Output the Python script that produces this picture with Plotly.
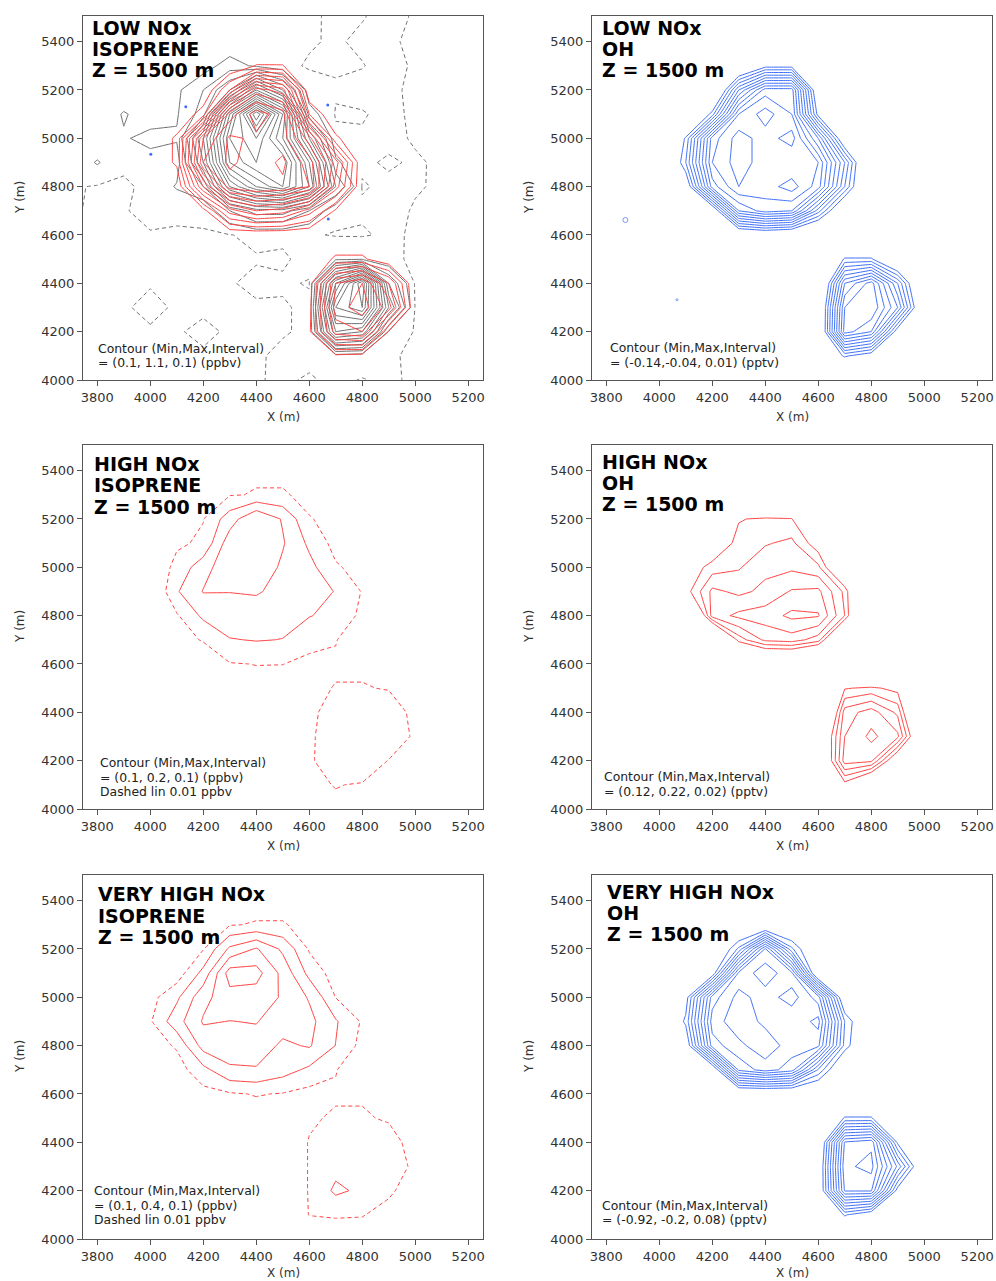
import plotly.graph_objects as go

W, H = 996, 1281

# ---------------- grids (metres) ----------------
XG = [3900, 4000, 4100, 4200, 4300, 4400, 4500, 4600, 4700, 4800, 4900, 5000, 5100]
YG = [5400, 5300, 5200, 5100, 5000, 4900, 4800, 4700, 4600, 4500, 4400, 4300, 4200, 4100, 4000]
XW = [3700, 3800, 3900, 4000, 4100, 4200, 4300, 4400, 4500, 4600, 4700, 4800, 4900, 5000, 5100, 5200, 5300]
YW = [5600, 5500, 5400, 5300, 5200, 5100, 5000, 4900, 4800, 4700, 4600, 4500, 4400, 4300, 4200, 4100, 4000, 3900]

# LOW NOx isoprene (red field), ppbv, rows top -> bottom
P1_RED = [
    [0, 0, 0, 0, 0, 0, 0, 0, 0, 0, 0, 0, 0],
    [0, 0, 0, 0, 0, .105, .104, 0, 0, 0, 0, 0, 0],
    [0, 0, 0, 0, .3, .85, .75, 0, 0, 0, 0, 0, 0],
    [0, 0, 0, .15, .95, 1.15, 1.05, .2, 0, 0, 0, 0, 0],
    [0, 0, .12, .9, 1.12, 1.08, 1.05, .75, .12, 0, 0, 0, 0],
    [0, 0, .12, 1.0, 1.12, 1.05, 1.12, .95, .55, 0, 0, 0, 0],
    [0, 0, 0, .6, 1.05, 1.1, 1.08, 1.0, .45, 0, 0, 0, 0],
    [0, 0, 0, .05, .45, .6, .55, .35, .08, 0, 0, 0, 0],
    [0, 0, 0, 0, 0, 0, 0, 0, 0, 0, 0, 0, 0],
    [0, 0, 0, 0, 0, 0, 0, 0, .12, .12, .02, 0, 0],
    [0, 0, 0, 0, 0, 0, 0, .05, .6, .7, .4, 0, 0],
    [0, 0, 0, 0, 0, 0, 0, .06, .65, .75, .55, 0, 0],
    [0, 0, 0, 0, 0, 0, 0, .08, .55, .6, .09, 0, 0],
    [0, 0, 0, 0, 0, 0, 0, 0, .08, .06, 0, 0, 0],
    [0, 0, 0, 0, 0, 0, 0, 0, 0, 0, 0, 0, 0],
]

# LOW NOx second (gray) field on the wide grid
P1_GRAY = [
    [.02, .025, .02, .018, .022, .02, .025, .02, .018, .015, .004, .006, .03, .004, 0, 0, 0],
    [.022, .02, .018, .025, .02, .022, .02, .024, .02, .016, .003, .008, .022, .006, 0, 0, 0],
    [.02, .024, .02, .02, .018, .022, .02, .02, .02, .014, .005, .018, .016, .002, 0, 0, 0],
    [.02, .02, .022, .02, .02, .05, .15, .08, .02, .006, .002, .008, .025, .004, 0, 0, 0],
    [.025, .02, .02, .022, .08, .2, .4, .9, .5, .03, .018, .024, .014, .006, 0, 0, 0],
    [.02, .022, .11, .05, .09, .25, 1.2, 2.0, 1.3, .15, .004, .007, .02, .003, 0, 0, 0],
    [.02, .018, .09, .13, .11, .6, 1.4, 1.6, 1.2, .5, .024, .014, .022, .005, 0, 0, 0],
    [.024, .11, .02, .06, .05, .5, 1.3, 1.5, 1.5, .9, .12, .018, .004, .016, .002, 0, 0],
    [.018, .004, .002, .022, .11, .2, .9, 1.2, 1.4, 1.0, .3, .006, .02, .014, .004, 0, 0],
    [.016, .002, .006, .026, .02, .018, .2, .35, .35, .2, .03, .018, .024, .006, 0, 0, 0],
    [.004, 0, .002, .006, .004, .007, .008, .022, .018, .016, .006, .004, .02, .003, 0, 0, 0],
    [0, .002, 0, .004, .002, 0, .004, .006, .004, .024, .08, .09, .018, .004, 0, 0, 0],
    [0, 0, .003, .006, 0, .004, .006, .022, .016, .007, .9, 1.5, .3, .002, 0, 0, 0],
    [0, 0, .004, .024, .003, .002, .006, .003, .005, .02, 1.2, 1.4, .5, .006, 0, 0, 0],
    [0, 0, 0, .004, .006, .02, .004, 0, .006, .018, .9, .8, .09, .003, 0, 0, 0],
    [0, 0, 0, 0, .002, .004, 0, .004, .02, .024, .05, .04, .016, .002, 0, 0, 0],
    [0, 0, 0, 0, 0, 0, 0, .006, .018, .004, .022, .007, .02, 0, 0, 0, 0],
    [0, 0, 0, 0, 0, 0, 0, 0, .004, 0, .004, 0, .02, 0, 0, 0, 0],
]
P1_BLUE_X = [4134, 4002, 4670, 4672]
P1_BLUE_Y = [5131, 4934, 5138, 4666]

# LOW NOx OH, pptv
P2_OH = [
    [0, 0, 0, 0, 0, 0, 0, 0, 0, 0, 0, 0, 0],
    [0, 0, 0, 0, -.01, -.035, -.035, 0, 0, 0, 0, 0, 0],
    [0, 0, 0, 0, -.08, -.125, -.125, -.02, 0, 0, 0, 0, 0],
    [0, 0, 0, -.045, -.13, -.145, -.13, -.035, 0, 0, 0, 0, 0],
    [0, 0, -.042, -.125, -.145, -.135, -.145, -.1, -.02, 0, 0, 0, 0],
    [0, 0, -.05, -.13, -.145, -.135, -.13, -.13, -.07, 0, 0, 0, 0],
    [0, 0, -.025, -.115, -.14, -.135, -.145, -.125, -.06, 0, 0, 0, 0],
    [0, 0, 0, -.02, -.11, -.125, -.12, -.065, -.01, 0, 0, 0, 0],
    [0, 0, 0, 0, -.015, -.02, -.015, 0, 0, 0, 0, 0, 0],
    [0, 0, 0, 0, 0, 0, 0, 0, -.042, -.042, -.01, 0, 0],
    [0, 0, 0, 0, 0, 0, 0, 0, -.1, -.125, -.07, 0, 0],
    [0, 0, 0, 0, 0, 0, 0, -.01, -.12, -.13, -.09, -.01, 0],
    [0, 0, 0, 0, 0, 0, 0, -.01, -.125, -.11, -.03, 0, 0],
    [0, 0, 0, 0, 0, 0, 0, -.02, -.042, -.03, 0, 0, 0],
    [0, 0, 0, 0, 0, 0, 0, 0, 0, 0, 0, 0, 0],
]
P2_DOT_X = [3872, 4067]
P2_DOT_Y = [4662, 4332]

# HIGH NOx isoprene, ppbv
P3_ISO = [
    [0, 0, 0, 0, 0, 0, 0, 0, 0, 0, 0, 0, 0],
    [0, 0, 0, 0, .005, .014, .014, 0, 0, 0, 0, 0, 0],
    [0, 0, 0, .008, .15, .3, .19, .012, 0, 0, 0, 0, 0],
    [0, 0, 0, .02, .26, .3, .21, .08, -.02, 0, 0, 0, 0],
    [0, -.05, .03, .16, .27, .28, .18, .13, .02, -.02, 0, 0, 0],
    [0, -.1, .09, .205, .202, .21, .17, .15, .095, .005, -.02, 0, 0],
    [0, 0, 0, .12, .16, .15, .13, .105, .07, -.01, 0, 0, 0],
    [0, 0, 0, .012, .095, .105, .098, .03, .012, -.02, 0, 0, 0],
    [0, 0, 0, -.01, .005, .012, .011, -.005, .004, .004, 0, 0, 0],
    [0, 0, 0, 0, -.02, -.02, -.02, 0, .012, .012, .008, 0, 0],
    [0, 0, 0, 0, 0, 0, 0, -.006, .04, .05, .03, 0, 0],
    [0, 0, 0, 0, 0, 0, 0, -.005, .06, .07, .05, 0, 0],
    [0, 0, 0, 0, 0, 0, 0, 0, .05, .05, .008, -.01, 0],
    [0, 0, 0, 0, 0, 0, 0, 0, .012, .006, 0, 0, 0],
    [0, 0, 0, 0, 0, 0, 0, 0, 0, 0, 0, 0, 0],
]

# HIGH NOx OH, pptv
P4_OH = [
    [0, 0, 0, 0, 0, 0, 0, 0, 0, 0, 0, 0, 0],
    [0, 0, 0, 0, 0, 0, 0, 0, 0, 0, 0, 0, 0],
    [0, 0, 0, 0, .118, .125, .122, 0, 0, 0, 0, 0, 0],
    [0, 0, 0, .09, .13, .138, .145, .105, 0, 0, 0, 0, 0],
    [0, 0, .1, .13, .138, .155, .156, .145, .06, 0, 0, 0, 0],
    [0, 0, .11, .165, .155, .165, .182, .185, .135, 0, 0, 0, 0],
    [0, 0, 0, .17, .185, .19, .205, .202, .14, 0, 0, 0, 0],
    [0, 0, 0, 0, .13, .165, .17, .15, .02, 0, 0, 0, 0],
    [0, 0, 0, 0, 0, .04, .04, 0, 0, 0, 0, 0, 0],
    [0, 0, 0, 0, 0, 0, 0, 0, .118, .125, .112, 0, 0],
    [0, 0, 0, 0, 0, 0, 0, 0, .17, .19, .155, 0, 0],
    [0, 0, 0, 0, 0, 0, 0, .06, .18, .205, .185, .05, 0],
    [0, 0, 0, 0, 0, 0, 0, .05, .19, .185, .08, 0, 0],
    [0, 0, 0, 0, 0, 0, 0, 0, .11, .05, 0, 0, 0],
    [0, 0, 0, 0, 0, 0, 0, 0, 0, 0, 0, 0, 0],
]

# VERY HIGH NOx isoprene, ppbv
P5_ISO = [
    [-.02, -.02, -.02, -.02, -.02, -.02, -.02, -.02, -.02, -.02, -.02, -.02, -.02],
    [-.02, -.02, -.02, -.02, .005, .016, .016, -.015, -.02, -.02, -.02, -.02, -.02],
    [-.02, -.02, -.02, .005, .22, .31, .18, 0, -.01, -.02, -.02, -.02, -.02],
    [-.02, -.02, -.04, .13, .45, .44, .27, .07, -.03, -.02, -.02, -.02, -.02],
    [-.05, -.02, .08, .27, .36, .35, .29, .19, .008, -.02, -.02, -.02, -.02],
    [-.05, 0, .16, .31, .298, .305, .25, .23, .11, 0, -.02, -.02, -.02],
    [-.02, -.03, .02, .24, .27, .26, .18, .21, .098, -.02, -.02, -.02, -.02],
    [-.02, -.02, -.03, .07, .18, .19, .14, .08, .012, -.02, -.02, -.02, -.02],
    [-.02, -.02, -.02, -.02, 0, .015, .005, -.02, .005, .005, -.02, -.02, -.02],
    [-.02, -.02, -.02, -.02, -.03, -.03, -.03, .005, .015, .015, .005, -.02, -.02],
    [-.02, -.02, -.02, -.02, -.02, -.02, -.02, .012, .05, .05, .03, -.01, -.02],
    [-.02, -.02, -.02, -.02, -.02, -.02, -.02, .012, .07, .07, .05, -.005, -.02],
    [-.02, -.02, -.02, -.02, -.02, -.02, -.02, .012, .12, .08, .02, -.02, -.02],
    [-.02, -.02, -.02, -.02, -.02, -.02, -.02, .011, .015, .013, -.01, -.02, -.02],
    [-.02, -.02, -.02, -.02, -.02, -.02, -.02, -.02, -.02, -.02, -.02, -.02, -.02],
]

# VERY HIGH NOx OH, pptv
P6_OH = [
    [0, 0, 0, 0, 0, 0, 0, 0, 0, 0, 0, 0, 0],
    [0, 0, 0, 0, 0, 0, 0, 0, 0, 0, 0, 0, 0],
    [0, 0, 0, 0, -.3, -.85, -.3, 0, 0, 0, 0, 0, 0],
    [0, 0, 0, -.12, -.86, -.97, -.86, 0, 0, 0, 0, 0, 0],
    [0, 0, -.15, -.8, -.95, -.88, -.96, -.8, -.05, 0, 0, 0, 0],
    [0, 0, -.22, -.88, -.97, -.9, -.85, -.95, -.28, 0, 0, 0, 0],
    [0, 0, -.1, -.8, -.9, -.97, -.88, -.86, -.25, 0, 0, 0, 0],
    [0, 0, 0, -.05, -.78, -.88, -.8, -.35, 0, 0, 0, 0, 0],
    [0, 0, 0, 0, 0, 0, 0, 0, 0, 0, 0, 0, 0],
    [0, 0, 0, 0, 0, 0, 0, 0, -.21, -.21, 0, 0, 0],
    [0, 0, 0, 0, 0, 0, 0, 0, -.85, -.9, -.18, 0, 0],
    [0, 0, 0, 0, 0, 0, 0, -.05, -.9, -.95, -.5, 0, 0],
    [0, 0, 0, 0, 0, 0, 0, -.05, -.85, -.85, -.15, 0, 0],
    [0, 0, 0, 0, 0, 0, 0, 0, -.21, -.1, 0, 0, 0],
    [0, 0, 0, 0, 0, 0, 0, 0, 0, 0, 0, 0, 0],
]

X_TICKS = [3800, 4000, 4200, 4400, 4600, 4800, 5000, 5200]
Y_TICKS = [4000, 4200, 4400, 4600, 4800, 5000, 5200, 5400]
X_RANGE = [3746, 5256]
Y_RANGE = [4000, 5506]

TITLES = [
    ["LOW NOx", "ISOPRENE", "Z = 1500 m"],
    ["LOW NOx", "OH", "Z = 1500 m"],
    ["HIGH NOx", "ISOPRENE", "Z = 1500 m"],
    ["HIGH NOx", "OH", "Z = 1500 m"],
    ["VERY HIGH NOx", "ISOPRENE", "Z = 1500 m"],
    ["VERY HIGH NOx", "OH", "Z = 1500 m"],
]
NOTES = [
    ["Contour (Min,Max,Interval)", "= (0.1, 1.1, 0.1) (ppbv)"],
    ["Contour (Min,Max,Interval)", "= (-0.14,-0.04, 0.01) (pptv)"],
    ["Contour (Min,Max,Interval)", "= (0.1, 0.2, 0.1) (ppbv)", "Dashed lin 0.01 ppbv"],
    ["Contour (Min,Max,Interval)", "= (0.12, 0.22, 0.02) (pptv)"],
    ["Contour (Min,Max,Interval)", "= (0.1, 0.4, 0.1) (ppbv)", "Dashed lin 0.01 ppbv"],
    ["Contour (Min,Max,Interval)", "= (-0.92, -0.2, 0.08) (pptv)"],
]

RED = "#ff4040"
BLUE = "#3f6ff5"
GRAY = "#6e6e6e"

# ---------------- layout geometry (pixels) ----------------
COLS = [(83, 483), (592, 992)]
ROWS = [(16, 380), (445, 809), (875, 1239)]
TITLE_X = [90, 600, 92, 600, 96, 605]
TITLE_Y = [[27.5, 49, 70.5], [28, 49, 70.5], [464, 485.5, 506.5],
           [462, 483, 504], [894, 915.5, 936.5], [892, 913, 934]]
NOTE_X = [96, 608, 98, 602, 92, 600]
NOTE_Y = [[348, 362.5], [347, 362], [762, 777, 791.5],
          [776, 791], [1190, 1205, 1219.5], [1205, 1219.5]]
XTITLE_DY = [37, 37, 34]


def px(xp):
    return xp / W


def py(yp):
    return 1 - yp / H


fig = go.Figure()


def contour(rows, xs, ys, start, end, size, color, dash, k):
    fig.add_trace(go.Contour(
        x=xs, y=ys[::-1], z=rows[::-1],
        autocontour=False,
        contours=dict(start=start, end=end, size=size, coloring="lines", showlabels=False),
        colorscale=[[0, color], [1, color]],
        line=dict(width=1, dash=dash, smoothing=0),
        showscale=False, hoverinfo="skip",
        xaxis="x" + ("" if k == 1 else str(k)),
        yaxis="y" + ("" if k == 1 else str(k)),
    ))


DASH = "4px,3px"
# panel 1
contour(P1_GRAY, XW, YW, 0.01, 0.015, 1, GRAY, DASH, 1)
contour(P1_GRAY, XW, YW, 0.1, 2.0001, 0.1, GRAY, "solid", 1)
contour(P1_RED, XG, YG, 0.1, 1.1001, 0.1, RED, "solid", 1)
fig.add_trace(go.Scatter(x=P1_BLUE_X, y=P1_BLUE_Y, mode="markers",
                         marker=dict(size=3, color=BLUE), hoverinfo="skip",
                         xaxis="x", yaxis="y"))
# panel 2
contour(P2_OH, XG, YG, -0.14, -0.0399, 0.01, BLUE, "solid", 2)
fig.add_trace(go.Scatter(x=P2_DOT_X, y=P2_DOT_Y, mode="markers",
                         marker=dict(size=[5, 2], color="rgba(0,0,0,0)",
                                     line=dict(color=BLUE, width=1)),
                         hoverinfo="skip", xaxis="x2", yaxis="y2"))
# panel 3
contour(P3_ISO, XG, YG, 0.01, 0.015, 1, RED, DASH, 3)
contour(P3_ISO, XG, YG, 0.1, 0.2001, 0.1, RED, "solid", 3)
# panel 4
contour(P4_OH, XG, YG, 0.12, 0.2201, 0.02, RED, "solid", 4)
# panel 5
contour(P5_ISO, XG, YG, 0.01, 0.015, 1, RED, DASH, 5)
contour(P5_ISO, XG, YG, 0.1, 0.4001, 0.1, RED, "solid", 5)
# panel 6
contour(P6_OH, XG, YG, -0.92, -0.1999, 0.08, BLUE, "solid", 6)

layout = dict(
    width=W, height=H, autosize=False,
    margin=dict(l=0, r=0, t=0, b=0, autoexpand=False),
    paper_bgcolor="white", plot_bgcolor="white",
    showlegend=False,
    font=dict(family="DejaVu Sans", color="#333333"),
)
annotations = []
for k in range(6):
    r, c = divmod(k, 2)
    x0, x1 = COLS[c]
    y0, y1 = ROWS[r]
    sx = "" if k == 0 else str(k + 1)
    axis_common = dict(showline=True, mirror=True, linecolor="#555555", linewidth=1,
                       ticks="outside", ticklen=5, tickwidth=1, tickcolor="#555555",
                       showgrid=False, zeroline=False, automargin=False,
                       tickfont=dict(family="DejaVu Sans", size=13, color="#333333"))
    layout["xaxis" + sx] = dict(axis_common, domain=[px(x0), px(x1)], range=X_RANGE,
                                tickmode="array", tickvals=X_TICKS,
                                anchor="y" + sx)
    layout["yaxis" + sx] = dict(axis_common, domain=[py(y1), py(y0)], range=Y_RANGE,
                                tickmode="array", tickvals=Y_TICKS,
                                anchor="x" + sx)
    for t, ty in zip(TITLES[k], TITLE_Y[k]):
        annotations.append(dict(text="<b>%s</b>" % t, x=px(TITLE_X[k]), y=py(ty),
                                xref="paper", yref="paper", xanchor="left", yanchor="middle",
                                showarrow=False,
                                font=dict(family="DejaVu Sans", size=19, color="black")))
    for t, ty in zip(NOTES[k], NOTE_Y[k]):
        annotations.append(dict(text=t, x=px(NOTE_X[k]), y=py(ty),
                                xref="paper", yref="paper", xanchor="left", yanchor="middle",
                                showarrow=False,
                                font=dict(family="DejaVu Sans", size=12.4, color="#222222")))
    annotations.append(dict(text="X (m)", x=px((x0 + x1) / 2), y=py(y1 + XTITLE_DY[r]),
                            xref="paper", yref="paper", xanchor="center", yanchor="middle",
                            showarrow=False,
                            font=dict(family="DejaVu Sans", size=12, color="#333333")))
    annotations.append(dict(text="Y (m)", x=px(x0 - 63), y=py((y0 + y1) / 2),
                            xref="paper", yref="paper", xanchor="center", yanchor="middle",
                            textangle=-90, showarrow=False,
                            font=dict(family="DejaVu Sans", size=12, color="#333333")))
layout["annotations"] = annotations
fig.update_layout(**layout)
fig.write_html("out.html",
               config={"displayModeBar": False},
               post_script="document.body.style.margin='0px';document.body.style.overflow='hidden';")
